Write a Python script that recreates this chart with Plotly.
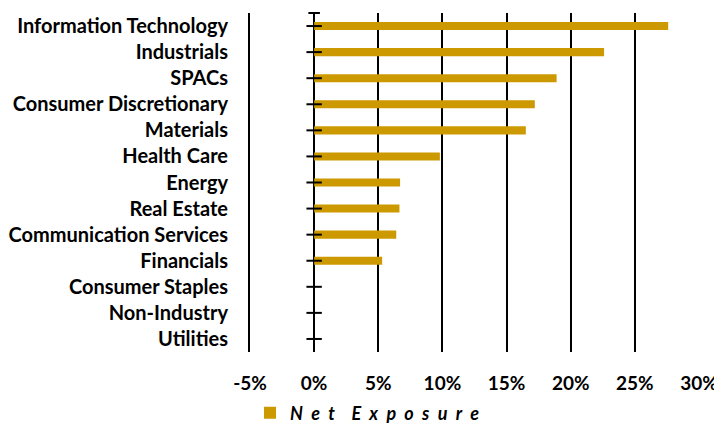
import plotly.graph_objects as go

categories = ["Information Technology", "Industrials", "SPACs", "Consumer Discretionary",
              "Materials", "Health Care", "Energy", "Real Estate", "Communication Services",
              "Financials", "Consumer Staples", "Non-Industry", "Utilities"]
net_exposure = [27.6, 22.6, 18.9, 17.2, 16.5, 9.8, 6.7, 6.65, 6.4, 5.3, 0, 0, 0]
x_tickvals = [-5, 0, 5, 10, 15, 20, 25, 30]
x_ticktext = ["-5%", "0%", "5%", "10%", "15%", "20%", "25%", "30%"]
series_name = "Net Exposure"

GOLD = "#CC9900"
FONT = "Lato"

# letter-spaced legend label, as in the original
spaced_name = "\u2003\u2005".join("\u2002".join(w) for w in series_name.split(" "))

fig = go.Figure()
fig.add_trace(go.Bar(
    y=categories, x=net_exposure, orientation="h",
    marker=dict(color=GOLD, line=dict(width=0)),
    width=0.31, name=spaced_name, showlegend=True,
))
# tick marks on the zero axis at each category
fig.add_trace(go.Scatter(
    y=categories, x=[0] * len(categories), mode="markers",
    marker=dict(symbol="line-ew", size=11, line=dict(width=2, color="black")),
    showlegend=False, hoverinfo="skip", cliponaxis=False,
))

fig.update_layout(
    width=714, height=419,
    margin=dict(l=242, r=23, t=5, b=75, autoexpand=False),
    plot_bgcolor="white", paper_bgcolor="white",
    font=dict(family=FONT, color="black"),
    showlegend=True,
    legend=dict(orientation="h", x=0.0, xanchor="left", y=-0.18, yanchor="middle",
                font=dict(family=FONT, size=18, color="black", style="italic", weight="bold"),
                itemwidth=30, tracegroupgap=0),
)
fig.update_xaxes(
    range=[-5, 30], tickvals=x_tickvals, ticktext=x_ticktext, automargin=False,
    showgrid=True, gridcolor="black", gridwidth=2,
    zeroline=True, zerolinecolor="black", zerolinewidth=2,
    showline=False, ticks="", ticklabelstandoff=18,
    tickfont=dict(family=FONT, size=19, weight="bold"),
)
fig.update_yaxes(
    categoryorder="array", categoryarray=categories,
    range=[len(categories) - 0.5, -0.5], autorange=False,
    tickmode="array", tickvals=categories, ticktext=categories,
    automargin=False,
    showgrid=False, zeroline=False, showline=True, linecolor="black", linewidth=2,
    ticks="", ticklabelstandoff=16,
    tickfont=dict(family=FONT, size=20, weight="bold"),
)
# top end cap of the zero axis
fig.add_shape(type="line", xref="x", yref="paper", x0=-0.45, x1=0.45, y0=1, y1=1,
              line=dict(color="black", width=2))

fig.write_html("out.html")
